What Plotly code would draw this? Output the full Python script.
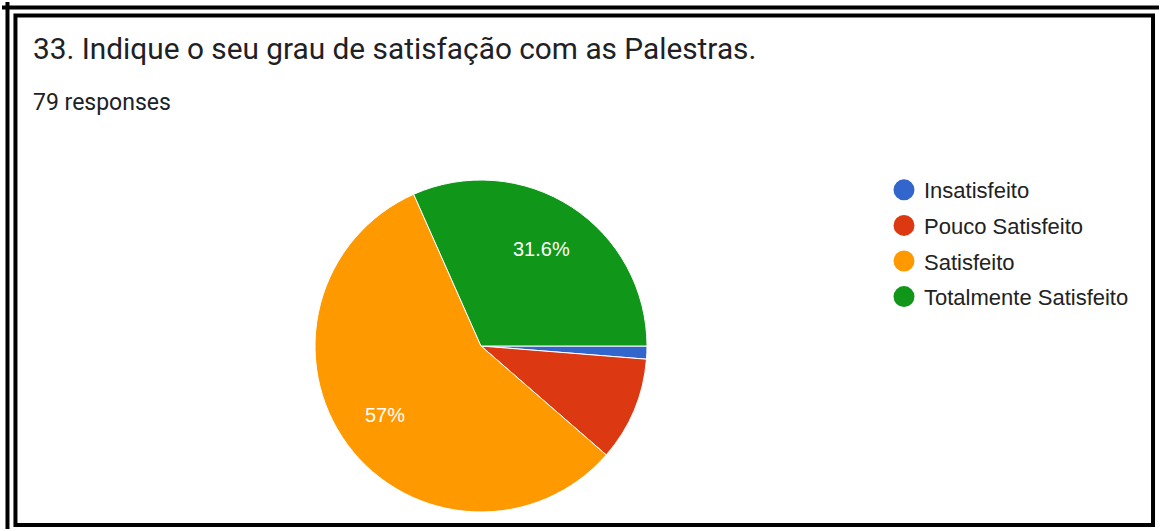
import math
import plotly.graph_objects as go

# data
labels = ["Insatisfeito", "Pouco Satisfeito", "Satisfeito", "Totalmente Satisfeito"]
counts = [1, 8, 45, 25]
colors = ["#3366cc", "#dc3912", "#ff9900", "#109618"]
title = "33. Indique o seu grau de satisfação com as Palestras."
subtitle = "79 responses"

W, H = 1161, 531
total = sum(counts)

# pie geometry in pixels
cx, cy, r = 481, 346, 166
start_deg = 90  # first slice starts at 3 o'clock, goes clockwise


def px(x):
    return x / W


def py(y):
    return 1 - y / H


fig = go.Figure()

fig.add_trace(go.Pie(
    labels=labels, values=counts,
    textinfo="none",
    marker=dict(colors=colors, line=dict(color="#ffffff", width=1)),
    sort=False, direction="clockwise", rotation=start_deg,
    domain=dict(x=[px(cx - r), px(cx + r)], y=[py(cy + r), py(cy - r)]),
    showlegend=False, hoverinfo="label+value+percent",
))

# legend with round markers (outline in same colour to make them bigger)
for lab, col in zip(labels, colors):
    fig.add_trace(go.Scatter(
        x=[None], y=[None], mode="markers", name=lab, legendgroup=lab,
        marker=dict(symbol="circle", size=16, color=col, line=dict(color=col, width=5)),
    ))

# percent labels like google forms: only slices big enough, placed at ~0.7 r
annotations = []
cum = 0
for c in counts:
    pct = round(c / total * 100, 1)
    mid = math.radians(start_deg + 360 * (cum + c / 2) / total)
    cum += c
    if pct < 15:
        continue
    lx = cx + 0.7 * r * math.sin(mid)
    ly = cy - 0.7 * r * math.cos(mid)
    annotations.append(dict(
        text=f"{pct:g}%", x=px(lx - 3), y=py(ly), xref="paper", yref="paper",
        xanchor="center", yanchor="middle", showarrow=False,
        font=dict(family="Arial, Liberation Sans", size=20, color="#ffffff"),
    ))

annotations += [
    dict(text=title, x=px(31), y=py(48), xref="paper", yref="paper",
         xanchor="left", yanchor="middle", showarrow=False,
         font=dict(family="Roboto", size=29.8, color="#202124")),
    dict(text=subtitle, x=px(31), y=py(102), xref="paper", yref="paper",
         xanchor="left", yanchor="middle", showarrow=False,
         font=dict(family="Roboto", size=23, color="#202124")),
]

shapes = [
    # outer frame (top + left)
    dict(type="line", x0=px(0), x1=px(W), y0=py(5.5), y1=py(5.5), line=dict(color="black", width=4)),
    dict(type="line", x0=px(5.5), x1=px(5.5), y0=py(0), y1=py(H), line=dict(color="black", width=4)),
    # inner frame
    dict(type="rect", x0=px(13.5), x1=px(1155), y0=py(527), y1=py(13.5), line=dict(color="black", width=4)),
]

fig.update_layout(
    width=W, height=H,
    margin=dict(l=0, r=0, t=0, b=0),
    paper_bgcolor="white", plot_bgcolor="white",
    xaxis=dict(visible=False), yaxis=dict(visible=False),
    shapes=shapes,
    annotations=annotations,
    legend=dict(
        x=px(884), y=py(169), xanchor="left", yanchor="top",
        font=dict(family="Arial, Liberation Sans", size=22, color="#222222"),
        tracegroupgap=4, itemwidth=30,
    ),
)

fig.write_html("out.html", config={"displayModeBar": False},
               post_script="document.body.style.margin='0';")
